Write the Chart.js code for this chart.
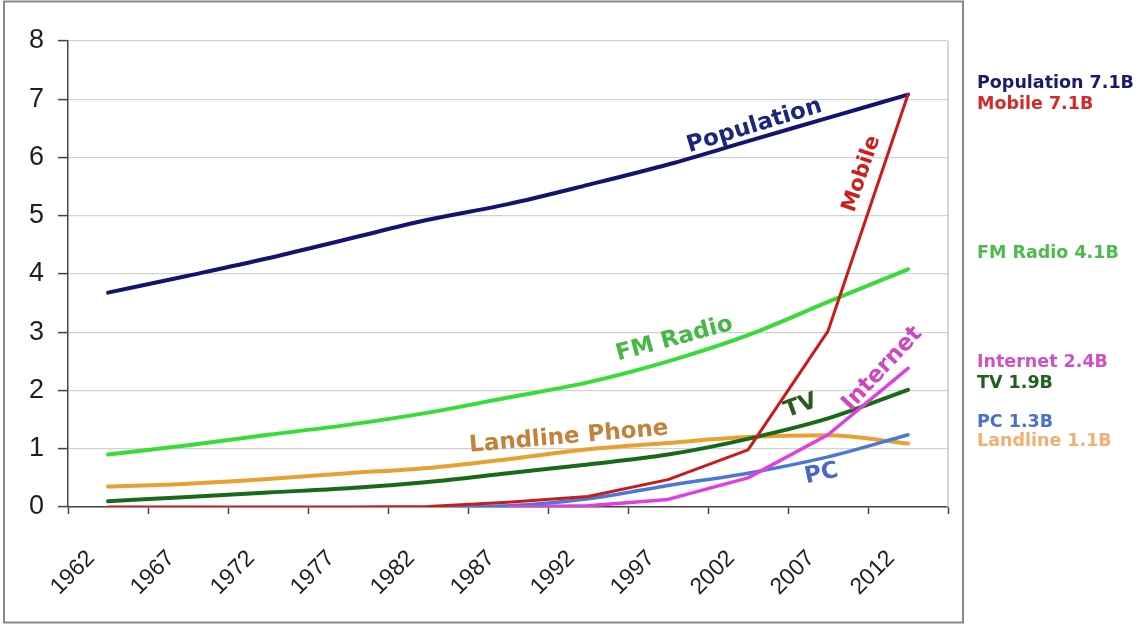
<!DOCTYPE html>
<html>
<head>
<meta charset="utf-8">
<script src="https://cdn.jsdelivr.net/npm/chart.js@4.4.1/dist/chart.umd.min.js"></script>
<style>
html,body{margin:0;padding:0;background:#ffffff;}
#wrap{width:1142px;height:627px;position:relative;}
</style>
</head>
<body>
<div id="wrap"><canvas id="c" width="1142" height="627"></canvas></div>
<script>
// ---- data (billions) ----
const CATEGORIES = ['1962','1967','1972','1977','1982','1987','1992','1997','2002','2007','2012'];
const YEARS      = [1962, 1967, 1972, 1977, 1982, 1987, 1992, 1997, 2002, 2007, 2012];
const Y_TICKS    = [0, 1, 2, 3, 4, 5, 6, 7, 8];

const POPULATION = [3.68, 3.97, 4.27, 4.60, 4.93, 5.20, 5.53, 5.88, 6.28, 6.68, 7.08];
const MOBILE     = [0.00, 0.00, 0.00, 0.00, 0.01, 0.08, 0.18, 0.47, 0.98, 3.02, 7.08];
const FM_RADIO   = [0.90, 1.06, 1.24, 1.41, 1.62, 1.88, 2.14, 2.50, 2.95, 3.52, 4.08];
const TV         = [0.10, 0.17, 0.25, 0.32, 0.43, 0.58, 0.73, 0.90, 1.17, 1.52, 2.01];
const LANDLINE   = [0.35, 0.40, 0.48, 0.58, 0.67, 0.82, 0.99, 1.10, 1.20, 1.23, 1.09];
const PC         = [null, null, null, null, 0.00, 0.02, 0.14, 0.37, 0.58, 0.86, 1.24];
const INTERNET   = [null, null, null, null, null, 0.00, 0.02, 0.13, 0.50, 1.24, 2.38];

const SERIES_NAMES = ['Population','Mobile','FM Radio','TV','Landline Phone','PC','Internet'];
const LEGEND_TEXT  = ['Population 7.1B','Mobile 7.1B','FM Radio 4.1B','Internet 2.4B','TV 1.9B','PC 1.3B','Landline 1.1B'];

// in-chart label anchors: [text, year, value, angleDeg, color, size]
const LINE_LABELS = [
  ['Population',     2002.4, 6.54, -17, '#1c2580', 23],
  ['Mobile',         2009.1, 5.72, -71, '#cc2020', 21],
  ['FM Radio',       1997.4, 2.88, -15, '#45b845', 23],
  ['Landline Phone', 1990.8, 1.20,  -5, '#c3823a', 23],
  ['TV',             2005.3, 1.73, -20, '#2a5a1e', 23],
  ['Internet',       2010.4, 2.37, -47, '#cf45c2', 23],
  ['PC',             2006.6, 0.57, -12, '#4866cc', 23]
];
// right-hand value list: [text, color, yPixel]
const SIDE_LIST = [
  [LEGEND_TEXT[0], '#1a1a6e', 83],
  [LEGEND_TEXT[1], '#d42a2a', 104],
  [LEGEND_TEXT[2], '#4cbc4c', 253],
  [LEGEND_TEXT[3], '#d050c8', 362],
  [LEGEND_TEXT[4], '#1f5f1f', 383],
  [LEGEND_TEXT[5], '#4a6fcc', 422],
  [LEGEND_TEXT[6], '#efb072', 441]
];

function pts(arr){ return YEARS.map((y,i)=>({x:y, y:arr[i]})).filter(p=>p.y!==null); }

function ds(label, arr, color, width, order, smooth){
  return {
    label, data: pts(arr), xAxisID:'xl', yAxisID:'y',
    borderColor: color, backgroundColor: color, borderWidth: width,
    pointRadius: 0, pointHoverRadius: 0, fill: false, order,
    tension: smooth ? 0.4 : 0, cubicInterpolationMode: smooth ? 'monotone' : 'default',
    borderCapStyle: 'round', borderJoinStyle: 'round'
  };
}

const annotate = {
  id: 'annotate',
  beforeDraw(chart){
    const ctx = chart.ctx;
    ctx.save();
    ctx.fillStyle = '#ffffff';
    ctx.fillRect(0,0,chart.width,chart.height);
    ctx.restore();
  },
  afterDatasetsDraw(chart){
    const ctx = chart.ctx, xs = chart.scales.xl, ys = chart.scales.y;
    ctx.save();
    LINE_LABELS.forEach(([t, yr, v, ang, col, sz])=>{
      const px = xs.getPixelForValue(yr), py = ys.getPixelForValue(v);
      ctx.save();
      ctx.translate(px, py);
      ctx.rotate(ang*Math.PI/180);
      ctx.font = 'bold ' + sz + 'px "DejaVu Sans"';
      ctx.fillStyle = col;
      ctx.textAlign = 'center';
      ctx.textBaseline = 'middle';
      ctx.fillText(t, 0, 0);
      ctx.restore();
    });
    ctx.restore();
  },
  afterDraw(chart){
    const ctx = chart.ctx, a = chart.chartArea;
    ctx.save();
    // right border of plot
    ctx.strokeStyle = '#c8c8c8'; ctx.lineWidth = 1.5;
    ctx.beginPath(); ctx.moveTo(a.right, a.top); ctx.lineTo(a.right, a.bottom); ctx.stroke();
    // outer frame
    ctx.strokeStyle = '#8a8a8a'; ctx.lineWidth = 2;
    ctx.strokeRect(4, 1.5, 959, 621);
    // side list
    ctx.font = 'bold 17.5px "DejaVu Sans"';
    ctx.textAlign = 'left'; ctx.textBaseline = 'middle';
    SIDE_LIST.forEach(([t,c,y])=>{ ctx.fillStyle = c; ctx.fillText(t, 977, y); });
    ctx.restore();
  }
};

new Chart(document.getElementById('c'), {
  type: 'line',
  data: {
    labels: CATEGORIES,
    datasets: [
      ds(SERIES_NAMES[1], MOBILE,     '#cc1a1a', 3,   0, false),
      ds(SERIES_NAMES[0], POPULATION, '#141470', 4,   1, true),
      ds(SERIES_NAMES[6], INTERNET,   '#e03ee0', 3.5, 2, false),
      ds(SERIES_NAMES[5], PC,         '#4a78d8', 3.5, 3, true),
      ds(SERIES_NAMES[3], TV,         '#176a17', 4,   4, true),
      ds(SERIES_NAMES[4], LANDLINE,   '#e8a030', 4,   5, true),
      ds(SERIES_NAMES[2], FM_RADIO,   '#38dc38', 4,   6, true)
    ]
  },
  options: {
    responsive: false,
    animation: false,
    events: [],
    layout: { padding: { left: 0, right: 194, top: 41, bottom: 0 } },
    plugins: { legend: { display: false }, tooltip: { enabled: false }, title: { display: false } },
    scales: {
      x: {
        type: 'category', labels: CATEGORIES, position: 'bottom', offset: true,
        grid: { offset: true, drawOnChartArea: false, drawTicks: true, tickLength: 7, tickColor: '#444', tickWidth: 1.5 },
        border: { color: '#444', width: 1.5 },
        ticks: { autoSkip: false, maxRotation: 45, minRotation: 45, labelOffset: -17, padding: 31,
                 color: '#1e1e1e', font: { family: '"Liberation Sans"', size: 23 } },
        afterFit(s){ s.height = 120; }
      },
      xl: { type: 'linear', display: false, min: 1959.5, max: 2014.5 },
      y: {
        type: 'linear', min: 0, max: 8,
        afterBuildTicks(s){ s.ticks = Y_TICKS.map(v=>({value:v})); },
        grid: { color: '#d2d2d2', lineWidth: 1.2, tickColor: '#444', tickLength: 10, tickWidth: 1.5 },
        border: { color: '#444', width: 1.5 },
        ticks: { padding: 14, color: '#1e1e1e', font: { family: '"Liberation Sans"', size: 27 } },
        afterFit(s){ s.width = 68; }
      }
    }
  },
  plugins: [annotate]
});
</script>
</body>
</html>
